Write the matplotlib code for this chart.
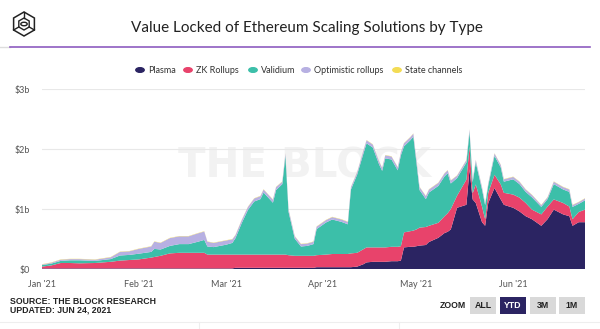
import numpy as np
import pandas as pd
import matplotlib
matplotlib.use("Agg")
import matplotlib.pyplot as plt
import matplotlib.dates as mdates
from matplotlib.patches import Rectangle, Polygon, Circle

# valores en miles de millones de USD
fechas = ["2021-01-01", "2021-01-04", "2021-01-07", "2021-01-10", "2021-01-13", "2021-01-18",
          "2021-01-23", "2021-01-26", "2021-01-29", "2021-02-01", "2021-02-05", "2021-02-06",
          "2021-02-08", "2021-02-11", "2021-02-14", "2021-02-17", "2021-02-20", "2021-02-22",
          "2021-02-23", "2021-02-25", "2021-03-01", "2021-03-03", "2021-03-04", "2021-03-06",
          "2021-03-08", "2021-03-10", "2021-03-12", "2021-03-13", "2021-03-16", "2021-03-17",
          "2021-03-19", "2021-03-20", "2021-03-21", "2021-03-23", "2021-03-25", "2021-03-27",
          "2021-03-29", "2021-03-30", "2021-04-02", "2021-04-04", "2021-04-07", "2021-04-09",
          "2021-04-10", "2021-04-12", "2021-04-14", "2021-04-15", "2021-04-17", "2021-04-19",
          "2021-04-20", "2021-04-21", "2021-04-23", "2021-04-25", "2021-04-26", "2021-04-27",
          "2021-04-29", "2021-04-30", "2021-05-01", "2021-05-02", "2021-05-04", "2021-05-05",
          "2021-05-08", "2021-05-10", "2021-05-11", "2021-05-12", "2021-05-14", "2021-05-17",
          "2021-05-18", "2021-05-19", "2021-05-20", "2021-05-22", "2021-05-23", "2021-05-24",
          "2021-05-26", "2021-05-28", "2021-05-29", "2021-06-01", "2021-06-03", "2021-06-05",
          "2021-06-07", "2021-06-10", "2021-06-12", "2021-06-14", "2021-06-17", "2021-06-19",
          "2021-06-20", "2021-06-22", "2021-06-24"]

plasma = [0.01, 0.01, 0.01, 0.01, 0.01, 0.01, 0.01, 0.01, 0.01, 0.01, 0.01, 0.01,
          0.01, 0.01, 0.01, 0.01, 0.01, 0.01, 0.01, 0.01, 0.01, 0.01, 0.02, 0.02,
          0.02, 0.02, 0.02, 0.02, 0.02, 0.02, 0.02, 0.02, 0.02, 0.02, 0.02, 0.02,
          0.02, 0.03, 0.03, 0.03, 0.03, 0.03, 0.03, 0.04, 0.08, 0.11, 0.12, 0.12,
          0.12, 0.12, 0.13, 0.13, 0.14, 0.36, 0.37, 0.37, 0.38, 0.39, 0.40, 0.45,
          0.52, 0.60, 0.62, 0.66, 1.02, 1.07, 1.66, 1.16, 1.10, 0.78, 0.72, 1.10,
          1.35, 1.16, 1.07, 1.02, 0.96, 0.88, 0.83, 0.72, 0.83, 0.99, 0.91, 0.88,
          0.72, 0.78, 0.78]

zk_rollups = [0.03, 0.05, 0.09, 0.09, 0.085, 0.09, 0.11, 0.13, 0.14, 0.15, 0.18, 0.19,
              0.21, 0.25, 0.26, 0.26, 0.26, 0.26, 0.23, 0.23, 0.23, 0.23, 0.22, 0.22,
              0.22, 0.22, 0.22, 0.22, 0.22, 0.22, 0.22, 0.22, 0.21, 0.20, 0.20, 0.20,
              0.20, 0.20, 0.21, 0.22, 0.22, 0.22, 0.23, 0.23, 0.25, 0.25, 0.24, 0.24,
              0.24, 0.24, 0.24, 0.24, 0.24, 0.25, 0.26, 0.27, 0.28, 0.30, 0.30, 0.27,
              0.25, 0.28, 0.31, 0.34, 0.20, 0.42, 0.38, 0.10, 0.31, 0.26, 0.11, 0.17,
              0.22, 0.25, 0.20, 0.22, 0.23, 0.22, 0.16, 0.19, 0.21, 0.17, 0.19, 0.16,
              0.11, 0.17, 0.21]

validium = [0.025, 0.03, 0.035, 0.045, 0.05, 0.035, 0.045, 0.085, 0.085, 0.095, 0.095, 0.135,
            0.105, 0.125, 0.145, 0.145, 0.185, 0.215, 0.135, 0.125, 0.165, 0.195, 0.275, 0.525,
            0.745, 0.885, 0.925, 1.035, 0.865, 1.075, 1.175, 1.645, 0.725, 0.285, 0.155, 0.165,
            0.195, 0.435, 0.535, 0.575, 0.535, 0.495, 1.065, 1.305, 1.595, 1.735, 1.665, 1.385,
            1.275, 1.485, 1.455, 1.275, 1.515, 1.435, 1.515, 1.565, 1.105, 0.625, 0.465, 0.555,
            0.615, 0.665, 0.665, 0.425, 0.295, 0.285, 0.245, 0.185, 0.365, 0.285, 0.235, 0.125,
            0.315, 0.285, 0.185, 0.255, 0.225, 0.185, 0.205, 0.125, 0.125, 0.255, 0.225, 0.245,
            0.205, 0.135, 0.155]

optimistic = [0.01, 0.015, 0.02, 0.02, 0.02, 0.02, 0.03, 0.06, 0.06, 0.08, 0.09, 0.12,
              0.11, 0.13, 0.13, 0.13, 0.14, 0.14, 0.08, 0.07, 0.07, 0.06, 0.05, 0.05,
              0.05, 0.05, 0.05, 0.05, 0.05, 0.05, 0.04, 0.04, 0.04, 0.04, 0.04, 0.04,
              0.04, 0.04, 0.04, 0.04, 0.04, 0.04, 0.04, 0.04, 0.05, 0.05, 0.05, 0.05,
              0.05, 0.05, 0.05, 0.05, 0.05, 0.05, 0.05, 0.05, 0.05, 0.05, 0.05, 0.05,
              0.05, 0.05, 0.05, 0.05, 0.04, 0.04, 0.04, 0.04, 0.04, 0.04, 0.03, 0.03,
              0.04, 0.04, 0.04, 0.04, 0.04, 0.04, 0.04, 0.03, 0.03, 0.04, 0.04, 0.04,
              0.03, 0.03, 0.03]

state_channels = [0.005] * len(fechas)

series = [plasma, zk_rollups, validium, optimistic, state_channels]
nombres = ["Plasma", "ZK Rollups", "Validium", "Optimistic rollups", "State channels"]
colores = ["#2b2462", "#e8436b", "#3cbfa9", "#b7b0e2", "#f3dc55"]

W, H = 600, 329


def fx(x):
    return x / W


def fy(y):
    return 1 - y / H


fig = plt.figure(figsize=(6, 3.29), dpi=100)
fig.patch.set_facecolor("white")

# marca de agua detras del grafico
fig.text(fx(305), fy(166), "THE BLOCK", fontsize=29, fontweight="bold",
         color="#f2f2f2", ha="center", va="center", family="DejaVu Sans", zorder=0)

ax = fig.add_axes([fx(42), fy(269), fx(585) - fx(42), (269 - 89) / H], zorder=1)
ax.patch.set_alpha(0)
x = pd.to_datetime(fechas)
ax.stackplot(x, *series, colors=colores, linewidth=0, zorder=2)

ax.set_xlim(pd.Timestamp("2021-01-01"), pd.Timestamp("2021-06-24"))
ax.set_ylim(0, 3)
ax.set_yticks([0, 1, 2, 3])
ax.set_yticklabels(["$0", "$1b", "$2b", "$3b"])
ax.xaxis.set_major_locator(mdates.MonthLocator())
ax.xaxis.set_major_formatter(mdates.DateFormatter("%b '%y"))
ax.grid(axis="y", color="#e8e8e8", linewidth=0.8, zorder=0)
ax.set_axisbelow(True)
for s in ax.spines.values():
    s.set_visible(False)
ax.tick_params(length=0, labelsize=6.5, labelcolor="#555555", pad=8)
ax.tick_params(axis="y", pad=9)
for lab in ax.get_xticklabels() + ax.get_yticklabels():
    lab.set_family("Lato")

# titulo y logo
fig.text(fx(307), fy(28), "Value Locked of Ethereum Scaling Solutions by Type",
         fontsize=11, family="Lato", color="#222222", ha="center", va="center")
fig.add_artist(plt.Line2D([fx(0), fx(10)], [fy(47), fy(47)], transform=fig.transFigure,
                          color="#dddddd", linewidth=1))
fig.add_artist(plt.Line2D([fx(10), fx(590)], [fy(47), fy(47)], transform=fig.transFigure,
                          color="#8e5cc0", linewidth=1.2))

ang = np.deg2rad(np.arange(6) * 60 + 90)
cx, cy = 24, 24
ext = [(fx(cx + 12 * np.cos(a)), fy(cy - 12 * np.sin(a))) for a in ang]
inn = [(fx(cx + 6 * np.cos(a + np.pi)), fy(cy - 6 * np.sin(a + np.pi))) for a in ang]
fig.add_artist(Polygon(ext, closed=True, fill=False, edgecolor="#222222", linewidth=1.1,
                       transform=fig.transFigure))
fig.add_artist(Polygon(inn, closed=True, fill=False, edgecolor="#222222", linewidth=1.0,
                       transform=fig.transFigure))
for i in (0, 2, 4):
    fig.add_artist(plt.Line2D([ext[i][0], inn[(i + 3) % 6][0]], [ext[i][1], inn[(i + 3) % 6][1]],
                              transform=fig.transFigure, color="#222222", linewidth=1.0))
fig.add_artist(Circle((fx(cx), fy(cy)), 3.2 / W, fill=False, edgecolor="#222222",
                      linewidth=1.0, transform=fig.transFigure))

# leyenda
ley_x = [140, 188, 253, 306, 397]
for xc, nom, col in zip(ley_x, nombres, colores):
    fig.add_artist(Circle((fx(xc), fy(70)), 4.2 / W, color=col, transform=fig.transFigure))
    fig.text(fx(xc + 8), fy(70.5), nom, fontsize=6.5, family="Lato", color="#333333",
             va="center", ha="left")

# pie
fig.text(fx(10), fy(301), "SOURCE: THE BLOCK RESEARCH", fontsize=6.3, fontweight="bold",
         family="Liberation Sans", color="#222222", va="center")
fig.text(fx(10), fy(310.5), "UPDATED: JUN 24, 2021", fontsize=6.3, fontweight="bold",
         family="Liberation Sans", color="#222222", va="center")
fig.text(fx(466), fy(305.5), "ZOOM", fontsize=6.3, fontweight="bold",
         family="Liberation Sans", color="#222222", va="center", ha="right")

botones = [("ALL", 470), ("YTD", 500), ("3M", 530), ("1M", 559)]
for txt, bx in botones:
    activo = txt == "YTD"
    fig.add_artist(Rectangle((fx(bx), fy(314)), 26 / W, 17 / H, transform=fig.transFigure,
                             facecolor="#2b2462" if activo else "#d9d9d9", edgecolor="none"))
    fig.text(fx(bx + 13), fy(305.5), txt, fontsize=6.3, fontweight="bold",
             family="Liberation Sans", color="white" if activo else "#222222",
             ha="center", va="center")

fig.add_artist(plt.Line2D([0, 1], [fy(322), fy(322)], transform=fig.transFigure,
                          color="#eeeeee", linewidth=0.8))
for vx in (199, 399):
    fig.add_artist(plt.Line2D([fx(vx), fx(vx)], [fy(322), 0], transform=fig.transFigure,
                              color="#eeeeee", linewidth=0.8))

fig.savefig("out.png", dpi=100, facecolor="white")
